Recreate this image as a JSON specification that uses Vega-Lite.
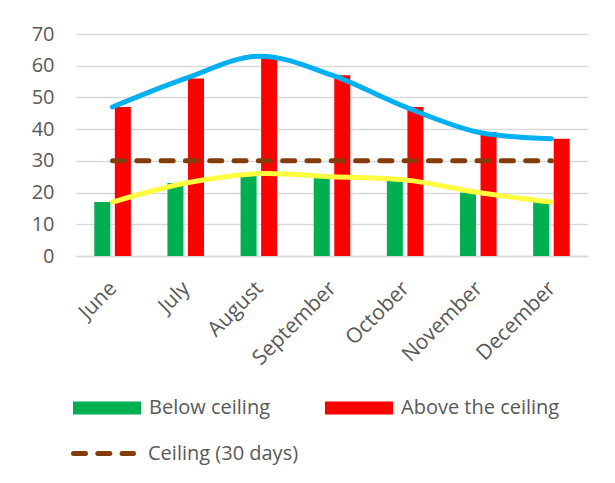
{
  "$schema": "https://vega.github.io/schema/vega-lite/v6.json",
  "width": 512,
  "height": 222,
  "autosize": {"type": "none"},
  "padding": {"left": 76, "top": 34, "right": 27, "bottom": 227},
  "background": "white",
  "datasets": {
    "days": [
      {"month": "June", "series": "Below ceiling", "days": 17},
      {"month": "June", "series": "Above the ceiling", "days": 47},
      {"month": "July", "series": "Below ceiling", "days": 23},
      {"month": "July", "series": "Above the ceiling", "days": 56},
      {"month": "August", "series": "Below ceiling", "days": 26},
      {"month": "August", "series": "Above the ceiling", "days": 63},
      {"month": "September", "series": "Below ceiling", "days": 25},
      {"month": "September", "series": "Above the ceiling", "days": 57},
      {"month": "October", "series": "Below ceiling", "days": 24},
      {"month": "October", "series": "Above the ceiling", "days": 47},
      {"month": "November", "series": "Below ceiling", "days": 20},
      {"month": "November", "series": "Above the ceiling", "days": 39},
      {"month": "December", "series": "Below ceiling", "days": 17},
      {"month": "December", "series": "Above the ceiling", "days": 37}
    ],
    "ceiling": [
      {"month": "June", "days": 30},
      {"month": "July", "days": 30},
      {"month": "August", "days": 30},
      {"month": "September", "days": 30},
      {"month": "October", "days": 30},
      {"month": "November", "days": 30},
      {"month": "December", "days": 30}
    ]
  },
  "encoding": {
    "x": {
      "field": "month",
      "type": "nominal",
      "sort": ["June", "July", "August", "September", "October", "November", "December"],
      "scale": {"paddingInner": 0.5, "paddingOuter": 0.25},
      "axis": {
        "title": null,
        "domainColor": "#D9D9D9",
        "domainWidth": 1.5,
        "ticks": false,
        "labelAngle": -45,
        "labelAlign": "right",
        "labelBaseline": "middle",
        "labelOffset": 1,
        "labelPadding": 29,
        "labelOverlap": false,
        "labelFont": "Open Sans",
        "labelFontSize": 21,
        "labelColor": "#595959"
      }
    },
    "y": {
      "field": "days",
      "type": "quantitative",
      "scale": {"domain": [0, 70]},
      "axis": {
        "title": null,
        "values": [0, 10, 20, 30, 40, 50, 60, 70],
        "domain": false,
        "ticks": false,
        "gridColor": "#D9D9D9",
        "gridWidth": 1.5,
        "labelOverlap": false,
        "labelBound": false,
        "labelFont": "Open Sans",
        "labelFontSize": 20,
        "labelColor": "#595959",
        "labelPadding": 22
      }
    }
  },
  "layer": [
    {
      "data": {"name": "days"},
      "mark": {"type": "bar"},
      "encoding": {
        "xOffset": {
          "field": "series",
          "type": "nominal",
          "sort": ["Below ceiling", "Above the ceiling"],
          "scale": {"paddingInner": 0.22}
        },
        "color": {
          "field": "series",
          "type": "nominal",
          "scale": {"domain": ["Below ceiling", "Above the ceiling"], "range": ["#00B050", "#FF0000"]},
          "legend": {
            "title": null,
            "orient": "none",
            "legendX": -3,
            "legendY": 340,
            "direction": "horizontal",
            "columns": 2,
            "columnPadding": 54,
            "symbolType": "M-1,-0.191L1,-0.191L1,0.191L-1,0.191Z",
            "symbolSize": 4624,
            "symbolStrokeWidth": 0,
            "symbolOpacity": 1,
            "labelOffset": 8
          }
        }
      }
    },
    {
      "data": {"name": "ceiling"},
      "mark": {"type": "line", "color": "#843C0C", "strokeWidth": 5, "strokeCap": "round"},
      "encoding": {
        "strokeDash": {
          "datum": "Ceiling (30 days)",
          "scale": {"domain": ["Ceiling (30 days)"], "range": [[12, 12.3]]},
          "legend": {
            "title": null,
            "orient": "none",
            "legendX": -5,
            "legendY": 387,
            "symbolType": "stroke",
            "symbolSize": 3600,
            "symbolStrokeColor": "#843C0C",
            "symbolStrokeWidth": 5,
            "labelOffset": 12,
            "encode": {
              "symbols": {
                "update": {
                  "strokeDash": {"value": [11.5, 12.5]},
                  "strokeCap": {"value": "round"},
                  "stroke": {"value": "#843C0C"}
                }
              }
            }
          }
        }
      }
    },
    {
      "data": {"name": "days"},
      "transform": [{"filter": "datum.series === 'Below ceiling'"}],
      "mark": {"type": "line", "interpolate": "cardinal", "tension": 0, "color": "#FFFF40", "strokeWidth": 5, "strokeCap": "round"},
      "encoding": {}
    },
    {
      "data": {"name": "days"},
      "transform": [{"filter": "datum.series === 'Above the ceiling'"}],
      "mark": {"type": "line", "interpolate": "cardinal", "tension": 0, "color": "#00B0F0", "strokeWidth": 5, "strokeCap": "round"},
      "encoding": {}
    }
  ],
  "config": {
    "view": {"stroke": null},
    "legend": {
      "labelFont": "Open Sans",
      "labelFontSize": 20,
      "labelColor": "#595959",
      "padding": 0,
      "labelLimit": 400
    }
  }
}
